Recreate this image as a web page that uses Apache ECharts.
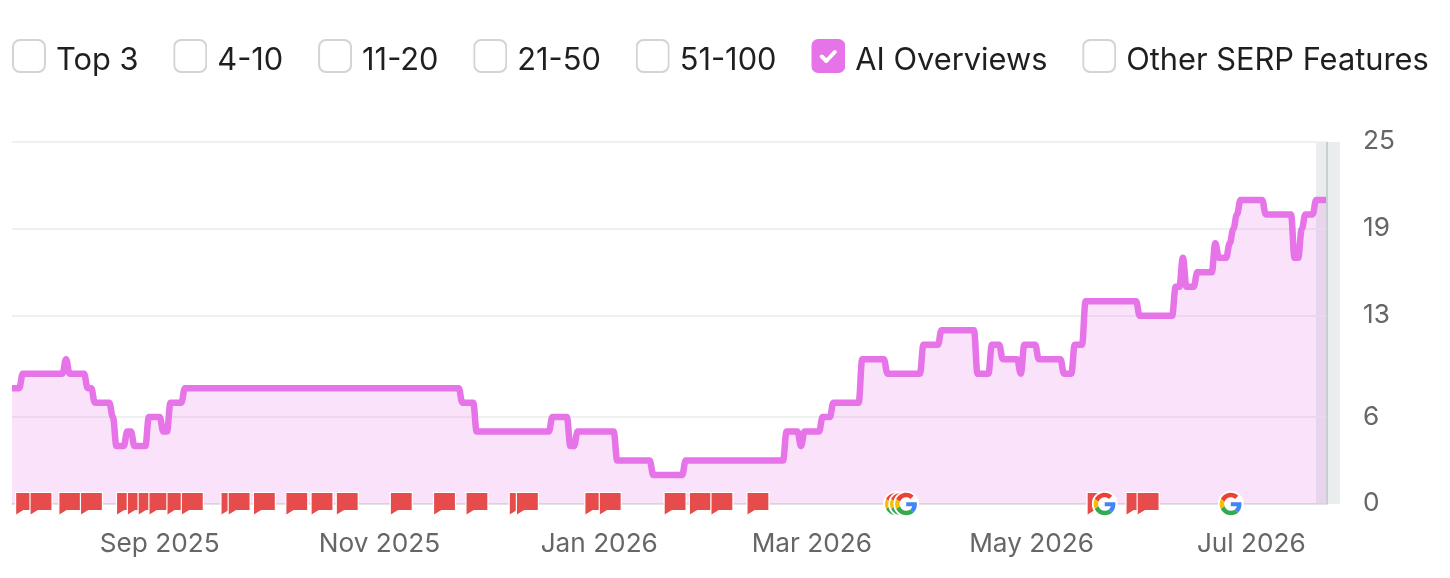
<!DOCTYPE html>
<html>
<head>
<meta charset="utf-8">
<style>html,body{margin:0;padding:0;background:#fff}#c{width:1450px;height:578px}</style>
<script src="https://cdn.jsdelivr.net/npm/echarts@6/dist/echarts.min.js"></script>
</head>
<body>
<div id="c"></div>
<script>
var legendNames = ['Top 3', '4-10', '11-20', '21-50', '51-100', 'AI Overviews', 'Other SERP Features'];
var startDate = '2025-07-22';
var stepValues = [8,9,10,9,8,7,6,4,5,4,6,5,7,8,7,5,6,4,5,3,2,3,5,4,5,6,7,10,9,11,12,9,11,10,9,11,10,9,11,14,13,15,17,15,16,18,17,18,19,20,21,20,17,19,20,21];
var stepDays   = [3,12,1,5,2,5,1,3,2,4,4,2,4,77,4,21,5,2,11,10,9,28,4,1,5,3,8,7,10,5,10,4,3,5,1,4,7,3,3,15,10,2,1,3,5,1,3,1,1,1,7,8,2,1,3,4];
var flagDays = [1,5,13,19,29,32,35,38,43,47,58,60,67,76,83,90,105,117,126,138,140,159,163,181,188,194,204,298.4,309.2,312.3];
var googleDays = [245.4,246.8,248.2,303.3,338.3];
var xTickDates = ['2025-09-01','2025-11-01','2026-01-01','2026-03-01','2026-05-01','2026-07-01'];
var xTickLabels = ['Sep 2025','Nov 2025','Jan 2026','Mar 2026','May 2026','Jul 2026'];
var yTicks = [0,6,13,19,25];

var DAY = 86400000;
var t0 = Date.parse(startDate + 'T00:00:00Z');
var lineData = [];
stepValues.forEach(function (v, i) {
  for (var k = 0; k < stepDays[i]; k++) lineData.push([t0 + lineData.length * DAY, v]);
});
var xTicks = xTickDates.map(function (d) { return Date.parse(d + 'T00:00:00Z'); });
var tEnd = t0 + (lineData.length - 1) * DAY;

function svgUri(s) { return 'image://data:image/svg+xml;charset=utf-8,' + encodeURIComponent(s); }
var boxOff = svgUri('<svg xmlns="http://www.w3.org/2000/svg" width="102" height="102" viewBox="0 0 34 34"><rect x="1" y="1" width="32" height="32" rx="7" fill="#fff" stroke="#d4d4d4" stroke-width="2"/></svg>');
var boxOn = svgUri('<svg xmlns="http://www.w3.org/2000/svg" width="102" height="102" viewBox="0 0 34 34"><rect x="0" y="0" width="34" height="34" rx="7" fill="#e673e8"/><path d="M10.5 17.5l4.5 4.5 8.5-9" fill="none" stroke="#fff" stroke-width="4" stroke-linecap="round" stroke-linejoin="round"/></svg>');
var gIcon = svgUri('<svg xmlns="http://www.w3.org/2000/svg" width="104" height="104" viewBox="-4 -4 56 56"><circle cx="24" cy="24" r="28" fill="#fff"/><path fill="#EA4335" d="M24 9.5c3.54 0 6.71 1.22 9.21 3.6l6.85-6.85C35.9 2.38 30.47 0 24 0 14.62 0 6.51 5.38 2.56 13.22l7.98 6.19C12.43 13.72 17.74 9.5 24 9.5z"/><path fill="#4285F4" d="M46.98 24.55c0-1.57-.15-3.09-.38-4.55H24v9.02h12.94c-.58 2.96-2.26 5.48-4.78 7.18l7.73 6c4.51-4.18 7.09-10.36 7.09-17.65z"/><path fill="#FBBC05" d="M10.53 28.59c-.5-1.45-.78-2.99-.78-4.59s.27-3.14.78-4.59l-7.98-6.19C.92 16.46 0 20.12 0 24c0 3.88.92 7.54 2.56 10.78l7.97-6.19z"/><path fill="#34A853" d="M24 48c6.48 0 11.93-2.13 15.89-5.81l-7.73-6c-2.15 1.45-4.92 2.3-8.16 2.3-6.26 0-11.57-4.22-13.47-9.91l-7.98 6.19C6.51 42.62 14.62 48 24 48z"/></svg>');

var chart = echarts.init(document.getElementById('c'), null, { renderer: 'canvas', useUTC: true });
var series = legendNames.map(function (n) {
  if (n !== 'AI Overviews') return { name: n, type: 'line', data: [] };
  return {
    name: n, type: 'line', data: lineData, showSymbol: false, symbol: 'none',
    smooth: 0.4, smoothMonotone: 'x',
    lineStyle: { color: '#e673e8', width: 6.5, cap: 'butt', join: 'round' },
    itemStyle: { color: '#e673e8' },
    areaStyle: { color: '#e673e8', opacity: 0.2 },
    z: 3
  };
});
series.push({
  name: 'Notes', type: 'scatter', clip: false, z: 5, silent: true,
  data: flagDays.map(function (d) { return [t0 + d * DAY, 0]; }),
  symbol: 'path://M0 0H22V18H8L0 23Z', symbolSize: [22, 23], symbolKeepAspect: false,
  symbolOffset: [11, 0],
  itemStyle: { color: '#e64c4c', borderColor: '#fff', borderWidth: 1.2, opacity: 1 }
});
series.push({
  name: 'Google updates', type: 'scatter', clip: false, z: 6, silent: true,
  data: googleDays.map(function (d) { return [t0 + d * DAY, 0]; }),
  symbol: gIcon, symbolSize: 26, itemStyle: { opacity: 1 }
});

chart.setOption({
  animation: false,
  useUTC: true,
  textStyle: { fontFamily: 'Inter' },
  legend: {
    left: 12, top: 39, padding: 0, itemWidth: 34, itemHeight: 34, itemGap: 34.8, selectedMode: false,
    data: legendNames.map(function (n) {
      return { name: n, icon: n === 'AI Overviews' ? boxOn : boxOff };
    }),
    formatter: '{a|{name}}',
    textStyle: {
      fontFamily: 'Inter', fontSize: 30.8, color: '#1f1f1f',
      rich: { a: { fontFamily: 'Inter', fontSize: 30.8, color: '#1f1f1f', padding: [10, 0, 0, 5] } }
    }
  },
  grid: { left: 12, right: 123, top: 142, bottom: 74, containLabel: false },
  xAxis: {
    type: 'time', min: t0, max: tEnd, splitNumber: 12,
    axisLine: { show: true, lineStyle: { color: '#e3e3e3', width: 2 } },
    axisTick: { show: false },
    splitLine: { show: false },
    axisLabel: {
      showMinLabel: false, showMaxLabel: false,
      hideOverlap: false,
      margin: 27, fontSize: 26.2, color: '#666666', fontFamily: 'Inter',
      formatter: function (v) {
        var i = xTicks.indexOf(+v);
        return i >= 0 ? xTickLabels[i] : '';
      }
    }
  },
  yAxis: {
    type: 'value', position: 'right', min: 0, max: 25,
    axisLine: { show: false },
    axisTick: { show: false, customValues: yTicks },
    splitLine: { show: true, lineStyle: { color: '#eef0f1', width: 2 } },
    axisLabel: {
      customValues: yTicks, margin: 36, fontSize: 26.2, color: '#666666', fontFamily: 'Inter',
      align: 'left',
      formatter: '{a|{value}}',
      rich: { a: { fontFamily: 'Inter', fontSize: 26.2, color: '#666666', padding: [0, 0, 1, 0] } }
    }
  },
  graphic: [
    { type: 'rect', silent: true, z: -1, shape: { x: 1316, y: 142, width: 24, height: 362 }, style: { fill: '#e9edee' } },
    { type: 'rect', silent: true, z: 4, shape: { x: 1326, y: 142, width: 2, height: 362 }, style: { fill: '#c9cfd1' } }
  ],
  series: series
});
</script>
</body>
</html>
